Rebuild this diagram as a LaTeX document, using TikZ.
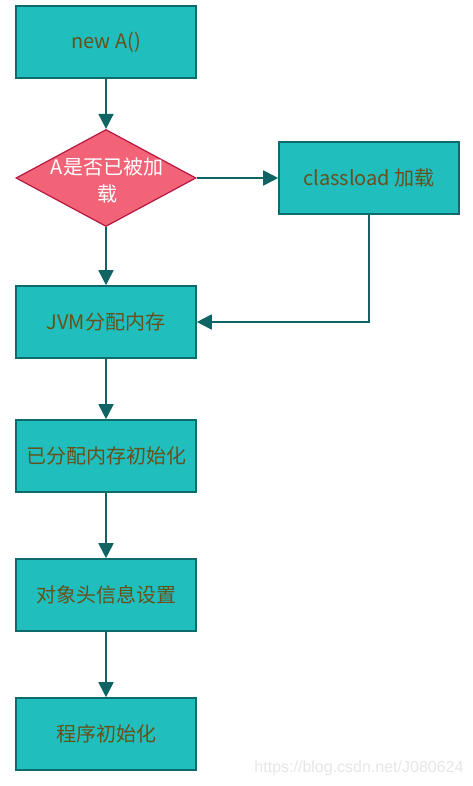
\documentclass[tikz,border=0pt]{standalone}
\usepackage{fontspec}
\setmainfont{Noto Sans CJK SC}
\newfontfamily\markfont{Liberation Sans}
\usetikzlibrary{arrows.meta,shapes.geometric}
\definecolor{boxfill}{HTML}{21BEBE}
\definecolor{boxline}{HTML}{0F6B6B}
\definecolor{boxtext}{HTML}{66511A}
\definecolor{chkfill}{HTML}{F26378}
\definecolor{chkline}{HTML}{B7173F}
\definecolor{flowline}{HTML}{106464}
\definecolor{marktext}{HTML}{E6E6E6}
\tikzset{
    stepbox/.style={draw=boxline, fill=boxfill, line width=1.6pt, minimum width=180pt,
        minimum height=72pt, inner sep=0pt, text=boxtext, font=\fontsize{20}{24}\selectfont},
    decision/.style={diamond, draw=chkline, fill=chkfill, line width=1.2pt,
        minimum width=180pt, minimum height=97pt, inner sep=0pt},
    flow/.style={draw=flowline, line width=1.8pt, -{Triangle[length=15pt,width=15pt]}}
}
\begin{document}
\begin{tikzpicture}[x=1pt, y=-1pt]
        \useasboundingbox (0,0) rectangle (472,786);
        % 创建对象
        \node [stepbox] (newa) at (106,42) {new A()};
        % 判断是否加载
        \node [decision] (chk) at (106,178) {};
        \node [text=white, align=center, inner sep=0pt, font=\fontsize{20}{27}\selectfont] (chktext) at (107,180) {A是否已被加\\载};
        \node [stepbox] (load) at (369,178) {classload 加载};
        % 分配内存及初始化
        \node [stepbox] (jvm) at (106,322) {JVM分配内存};
        \node [stepbox] (zero) at (106,456) {已分配内存初始化};
        \node [stepbox] (head) at (106,595) {对象头信息设置};
        \node [stepbox] (init) at (106,734) {程序初始化};
        % 箭头
        \draw [flow] (newa) -- (chk);
        \draw [flow] (chk) -- (load);
        \draw [flow] (chk) -- (jvm);
        \draw [flow] (load.south) |- (jvm.east);
        \draw [flow] (jvm) -- (zero);
        \draw [flow] (zero) -- (head);
        \draw [flow] (head) -- (init);
        % 水印
        \node [text=marktext, font=\markfont\fontsize{16}{18}\selectfont] (mark) at (359,768) {https://blog.csdn.net/J080624};
    \end{tikzpicture}
\end{document}
